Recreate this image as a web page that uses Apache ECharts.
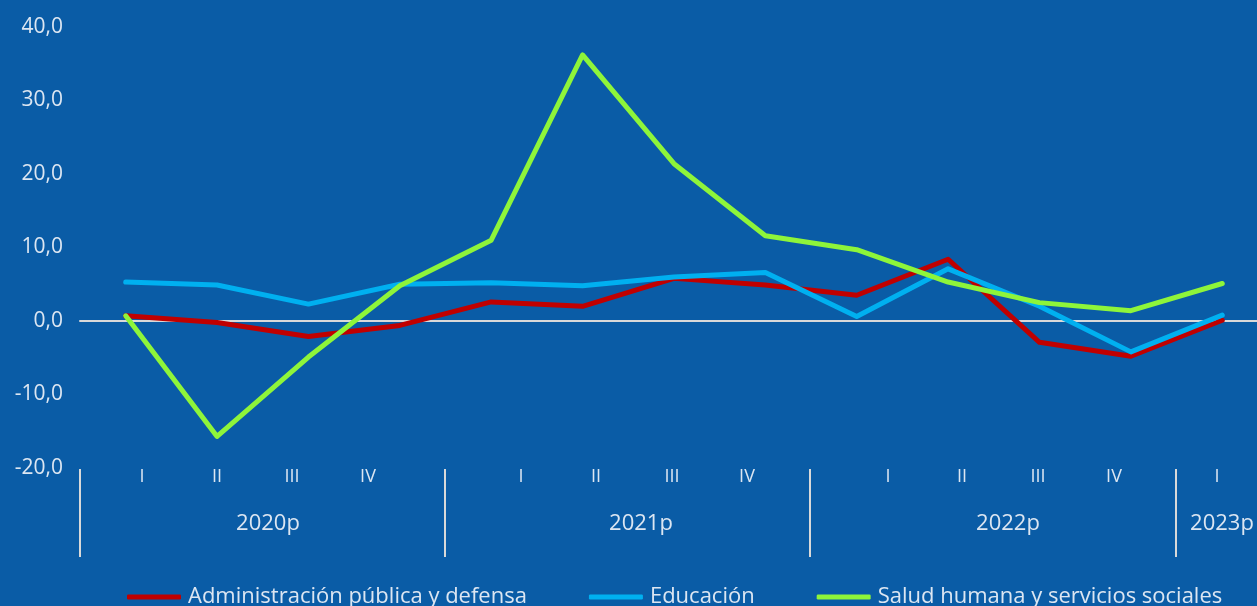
<!DOCTYPE html>
<html>
<head>
<meta charset="utf-8">
<script src="https://cdn.jsdelivr.net/npm/echarts@6/dist/echarts.min.js"></script>
<style>
  html, body { margin: 0; padding: 0; background: #0a5ca6; }
  #chart { width: 1257px; height: 606px; }
</style>
</head>
<body>
<div id="chart"></div>
<script>
// quarters, 2020p I .. 2023p I
const quarters = ['I', 'II', 'III', 'IV', 'I', 'II', 'III', 'IV', 'I', 'II', 'III', 'IV', 'I'];
const years = ['2020p', '2021p', '2022p', '2023p'];

const administracion = [0.7, -0.2, -2.1, -0.6, 2.6, 2.0, 5.8, 4.9, 3.5, 8.4, -2.9, -4.8, 0.1];
const educacion = [5.3, 4.9, 2.3, 5.0, 5.2, 4.8, 6.0, 6.6, 0.6, 7.1, 2.0, -4.2, 0.8];
const salud = [0.7, -15.7, -4.9, 4.8, 11.0, 36.2, 21.4, 11.6, 9.7, 5.3, 2.5, 1.4, 5.1];

const yTicks = [-20, -10, 0, 10, 20, 30, 40];

// label band layout (pixels from the left edge of the band)
const quarterPos = [62, 137, 212, 288, 441, 516, 592, 667, 808, 882, 958, 1034, 1137];
const yearPos = [188, 561, 928, 1142];
const sepPos = [0, 365, 730, 1096];

const textColor = '#dce6f2';
const font = 'Open Sans';

const chart = echarts.init(document.getElementById('chart'));

// quarter index on x, the last category is cut by the right edge as in the original
const lineSeries = (name, data, color) => ({
  name: name,
  type: 'line',
  data: data.map((v, i) => [i, v]),
  symbol: 'none',
  clip: false,
  lineStyle: { color: color, width: 5, cap: 'round', join: 'round' },
  itemStyle: { color: color },
  z: 3
});

chart.setOption({
  backgroundColor: '#0a5ca6',
  animation: false,
  textStyle: { fontFamily: font },
  grid: [
    { left: 80, right: 0, top: 27, bottom: 138 },
    { left: 80, right: 0, top: 468, height: 1 }
  ],
  xAxis: [
    {
      type: 'value',
      gridIndex: 0,
      min: -0.5,
      max: 12.38,
      axisLine: { onZero: true, lineStyle: { color: '#d9d9d9', width: 2 } },
      axisTick: { show: false },
      axisLabel: { show: false },
      splitLine: { show: false }
    },
    {
      type: 'value',
      gridIndex: 1,
      min: 0,
      max: 1177,
      position: 'bottom',
      axisLine: { show: false },
      splitLine: { show: false },
      axisTick: {
        show: true,
        customValues: sepPos,
        length: 88,
        lineStyle: { color: '#d9d9d9', width: 2 }
      },
      axisLabel: {
        customValues: quarterPos,
        formatter: v => quarters[quarterPos.indexOf(v)] || '',
        color: textColor,
        fontSize: 18,
        fontFamily: font,
        margin: -1
      }
    },
    {
      type: 'value',
      gridIndex: 1,
      min: 0,
      max: 1177,
      position: 'bottom',
      axisLine: { show: false },
      splitLine: { show: false },
      axisTick: { show: false },
      axisLabel: {
        customValues: yearPos,
        formatter: v => years[yearPos.indexOf(v)] || '',
        color: textColor,
        fontSize: 22,
        fontFamily: font,
        margin: 44
      }
    }
  ],
  yAxis: [
    {
      type: 'value',
      gridIndex: 0,
      min: yTicks[0],
      max: yTicks[yTicks.length - 1],
      interval: 10,
      axisLine: { show: false },
      axisTick: { show: false },
      splitLine: { show: false },
      axisLabel: {
        color: textColor,
        fontSize: 21,
        fontFamily: font,
        margin: 17,
        formatter: v => v.toFixed(1).replace('.', ',')
      }
    },
    {
      type: 'value',
      gridIndex: 1,
      show: false
    }
  ],
  legend: {
    left: 122,
    top: 581,
    itemWidth: 54,
    itemHeight: 5,
    itemGap: 62,
    icon: 'roundRect',
    textStyle: { color: textColor, fontSize: 22, fontFamily: font, padding: [0, 0, 0, 2] },
    data: ['Administración pública y defensa', 'Educación', 'Salud humana y servicios sociales']
  },
  series: [
    lineSeries('Administración pública y defensa', administracion, '#c00000'),
    lineSeries('Educación', educacion, '#00b0f0'),
    lineSeries('Salud humana y servicios sociales', salud, '#8ef53a')
  ]
});
</script>
</body>
</html>
